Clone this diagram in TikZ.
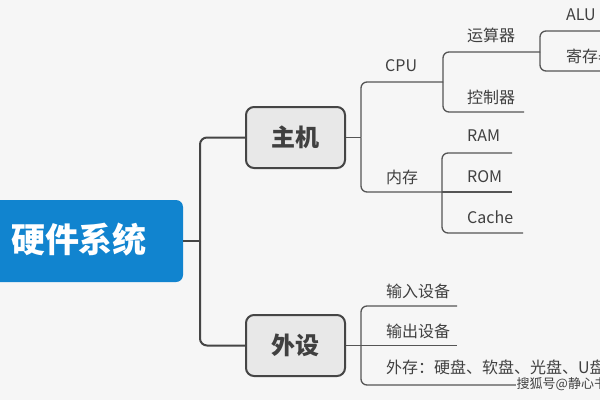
\documentclass[tikz,border=0pt]{standalone}
\usepackage{fontspec}
\setmainfont{Noto Sans CJK SC}
\definecolor{bg}{HTML}{F6F6F6}
\definecolor{blue1}{HTML}{1184CF}
\definecolor{ln}{HTML}{555555}
\definecolor{tx}{HTML}{404040}
\definecolor{boxfill}{HTML}{E8E8E8}
\definecolor{boxline}{HTML}{454545}
\tikzset{
  conn/.style={draw=ln, line width=1.3pt, rounded corners=6pt},
  mainconn/.style={draw=boxline, line width=2pt, rounded corners=7pt},
  lbl/.style={anchor=west, inner sep=0pt, text=tx, font=\fontsize{16}{16}\selectfont},
  subbox/.style={draw=boxline, fill=boxfill, line width=2pt, rounded corners=8pt,
    minimum width=99pt, minimum height=61pt, inner sep=0pt,
    text=tx, font=\fontsize{24}{24}\selectfont\bfseries},
  sysbox/.style={fill=blue1, rounded corners=7pt, minimum width=200pt, minimum height=82pt, inner sep=0pt},
}
\begin{document}
\begin{tikzpicture}[x=1pt,y=-1pt]
\useasboundingbox (0,0) rectangle (600,400);
\clip (0,0) rectangle (600,400);
\fill[bg] (0,0) rectangle (600,400);

% main node
\node[sysbox] (sys) at (83,241) {};
\node[inner sep=0pt, text=white, font=\fontsize{34}{34}\selectfont\bfseries] (syst) at (79,240) {硬件系统};

% second level
\node[subbox] (zj) at (295.5,137.5) {主机};
\node[subbox] (ws) at (295.5,345.5) {外设};

% junctions
\coordinate (j1) at (200,241);
\coordinate (j2) at (361,137.5);
\coordinate (j3) at (361,345.5);
\coordinate (cpuE) at (443,82);
\coordinate (ncE) at (442,192);
\coordinate (ysE) at (540,52);
\coordinate (kzE) at (524,112);
\coordinate (aluE) at (620,31);
\coordinate (jcE) at (620,71);
\coordinate (ramE) at (512,153);
\coordinate (romE) at (512,192);
\coordinate (cacheE) at (523,233);
\coordinate (srE) at (457,306);
\coordinate (scE) at (457,345.5);
\coordinate (wcE) at (610,385);

% level 1 connectors
\draw[mainconn] (sys.east) -- (j1);
\draw[mainconn] (j1) |- (zj.west);
\draw[mainconn] (j1) |- (ws.west);

% host
\draw[conn] (zj.east) -- (j2);
\draw[conn] (j2) |- (cpuE);
\draw[conn] (j2) |- (ncE);
\draw[conn] (cpuE) |- (ysE);
\draw[conn] (cpuE) |- (kzE);
\draw[conn] (ysE) |- (aluE);
\draw[conn] (ysE) |- (jcE);
\draw[conn] (ncE) |- (ramE);
\draw[conn] (ncE) -- (romE);
\draw[conn] (ncE) |- (cacheE);

% peripherals
\draw[conn] (ws.east) -- (j3);
\draw[conn] (j3) |- (srE);
\draw[conn] (j3) -- (scE);
\draw[conn] (j3) |- (wcE);

% watermark
\node[anchor=west, fill=bg, inner sep=0.5pt, text=tx, font=\fontsize{13}{13}\selectfont] (wm) at (516,384) {搜狐号@静心书};

% labels
\node[lbl] (cpu) at (385,66) {CPU};
\node[lbl] (ys) at (467,35) {运算器};
\node[lbl] (kz) at (467,97) {控制器};
\node[lbl] (alu) at (566,15) {ALU};
\node[lbl] (jc) at (566,56) {寄存器};
\node[lbl] (nc) at (386,177) {内存};
\node[lbl] (ram) at (467,136) {RAM};
\node[lbl] (rom) at (467,177) {ROM};
\node[lbl] (cache) at (467,217) {Cache};
\node[lbl] (sr) at (386,291) {输入设备};
\node[lbl] (sc) at (386,331) {输出设备};
\node[lbl] (wc) at (386,367) {外存：硬盘、软盘、光盘、U盘};
\end{tikzpicture}
\end{document}
